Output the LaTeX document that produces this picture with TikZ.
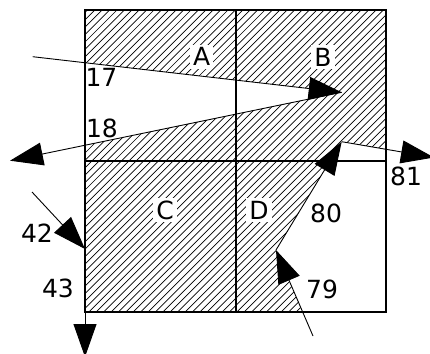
\documentclass[tikz,border=0pt]{standalone}
\usepackage{fontspec}
\setmainfont{DejaVu Sans}
\usetikzlibrary{arrows.meta}
\newcommand{\bigtext}{\fontsize{25}{30}\selectfont}
\tikzset{
  hatchline/.style = {line width=0.7pt},
  frame/.style   = {line width=1.5pt},
  edge/.style    = {-{Triangle[length=33pt,width=23pt]}, line width=0.9pt},
  region/.style  = {fill=white, inner sep=3pt, font=\bigtext},
  tag/.style     = {inner sep=0pt, font=\bigtext},
}

\begin{document}
\begin{tikzpicture}[x=1pt,y=-1pt]
  \useasboundingbox (0,0) rectangle (430,353);
  % clip window
  \coordinate (sqNW) at (85,10);
  \coordinate (sqNE) at (386,10);
  \coordinate (sqSE) at (386,312);
  \coordinate (sqSW) at (85,312);
  \coordinate (midN) at (236,10);
  \coordinate (midS) at (236,312);
  \coordinate (midW) at (85,161);
  \coordinate (midE) at (386,161);
  % polygon vertices
  \coordinate (s17) at (32.7,56.7);
  \coordinate (v18) at (341.7,92.3);
  \coordinate (e18) at (10,160.7);
  \coordinate (s42) at (32,192);
  \coordinate (v43) at (85,249);
  \coordinate (e43) at (85,357);
  \coordinate (s79) at (313,336);
  \coordinate (v80) at (276,250);
  \coordinate (v81) at (341.7,141.7);
  \coordinate (e81) at (434,157.5);
  % crossings with the window
  \coordinate (w17) at (intersection of s17--v18 and sqNW--sqSW);
  \coordinate (w18) at (intersection of v18--e18 and sqNW--sqSW);
  \coordinate (r81) at (intersection of v81--e81 and sqNE--sqSE);
  \coordinate (m80) at (intersection of v80--v81 and midW--midE);
  \coordinate (b79) at (intersection of s79--v80 and sqSW--sqSE);

  % hatching of the clipped polygon
  \begin{scope}
    \clip (sqNW) -- (sqNE) -- (r81) -- (v81) -- (m80) -- (v80)
      -- (b79) -- (sqSW) -- (w18) -- (v18) -- (w17) -- cycle;
    \foreach \c in {90,97.4,...,710}
      \draw[hatchline] (\c,0) -- (\c-360,360);
  \end{scope}

  \node[region] (A) at (201.7,56.7) {A};
  \node[region] (B) at (323,57) {B};
  \node[region] (C) at (165,210) {C};
  \node[region] (D) at (259,210) {D};

  \draw[frame] (sqNW) rectangle (sqSE);
  \draw[frame] (midN) -- (midS);
  \draw[frame] (midW) -- (midE);

  \draw[edge] (s17) -- (v18);
  \draw[edge] (v18) -- (e18);
  \draw[edge] (s42) -- (v43);
  \draw[edge] (v43) -- (e43);
  \draw[edge] (s79) -- (v80);
  \draw[edge] (v80) -- (v81);
  \draw[edge] (v81) -- (e81);

  \node[tag] (n17) at (101.5,77.5) {17};
  \node[tag] (n18) at (102,128.5) {18};
  \node[tag] (n42) at (37,233) {42};
  \node[tag] (n43) at (58,288) {43};
  \node[tag] (n79) at (322,289) {79};
  \node[tag] (n80) at (326,213) {80};
  \node[tag] (n81) at (406,176) {81};
\end{tikzpicture}
\end{document}
